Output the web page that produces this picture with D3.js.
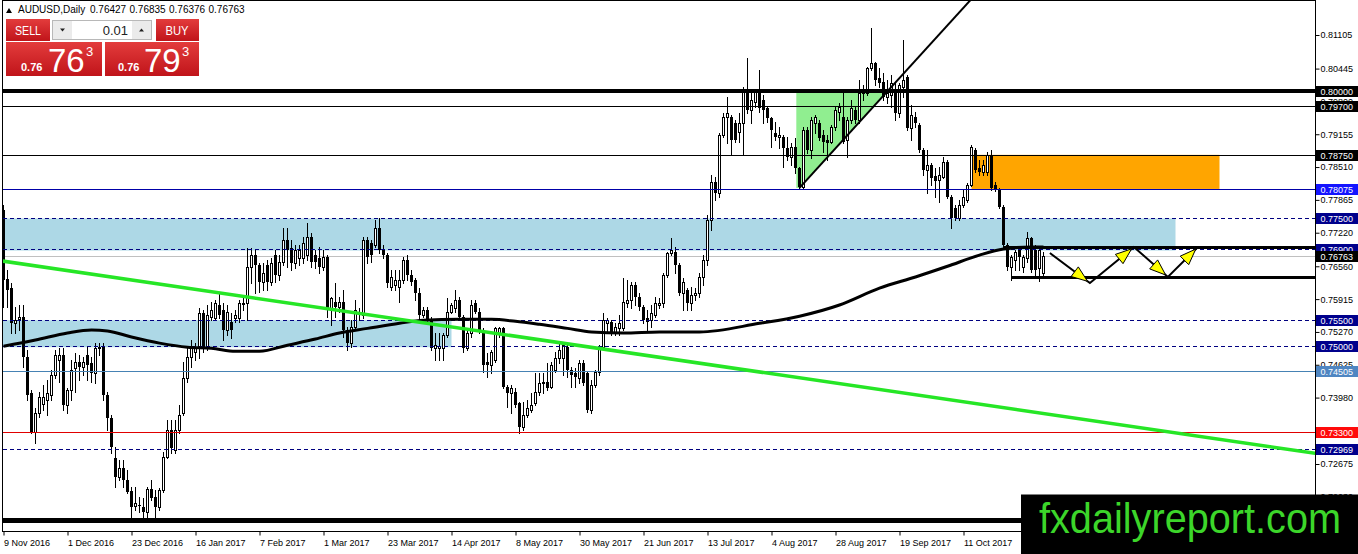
<!DOCTYPE html>
<html><head><meta charset="utf-8">
<script src="https://cdn.jsdelivr.net/npm/d3@7/dist/d3.min.js"></script>
<style>html,body{margin:0;padding:0;background:#fff;overflow:hidden}svg{display:block}</style>
</head><body>
<svg id="chart" width="1358" height="554"></svg>
<script>
// ---------------- DATA ----------------
const symbolTitle = "AUDUSD,Daily";
const headerValues = ["0.76427", "0.76835", "0.76376", "0.76763"];
const lotSize = "0.01";
const sellQuote = ["0.76", "76", "3"];
const buyQuote = ["0.76", "79", "3"];
const watermark = "fxdailyreport.com";

const opens = [
0.7766,0.7631,0.7613,0.7544,0.7552,0.7556,0.7477,0.7407,0.7330,0.7367,
0.7385,0.7393,0.7403,0.7442,0.7472,0.7481,0.7383,0.7413,0.7456,0.7468,
0.7458,0.7481,0.7466,0.7446,0.7495,0.7497,0.7403,0.7358,0.7279,0.7242,
0.7259,0.7236,0.7214,0.7185,0.7187,0.7183,0.7173,0.7218,0.7202,0.7183,
0.7216,0.7281,0.7334,0.7295,0.7334,0.7367,0.7436,0.7477,0.7487,0.7497,
0.7564,0.7497,0.7556,0.7554,0.7580,0.7570,0.7531,0.7546,0.7554,0.7554,
0.7584,0.7584,0.7654,0.7678,0.7658,0.7625,0.7658,0.7625,0.7678,0.7639,
0.7664,0.7707,0.7692,0.7662,0.7672,0.7672,0.7678,0.7713,0.7678,0.7672,
0.7654,0.7674,0.7570,0.7586,0.7576,0.7586,0.7531,0.7505,0.7536,0.7564,
0.7560,0.7707,0.7702,0.7698,0.7731,0.7688,0.7678,0.7615,0.7619,0.7615,
0.7629,0.7668,0.7639,0.7629,0.7603,0.7560,0.7570,0.7550,0.7495,0.7495,
0.7495,0.7521,0.7566,0.7574,0.7590,0.7556,0.7495,0.7525,0.7584,0.7566,
0.7527,0.7468,0.7462,0.7472,0.7525,0.7534,0.7419,0.7407,0.7409,0.7387,
0.7340,0.7364,0.7373,0.7387,0.7409,0.7426,0.7428,0.7419,0.7452,0.7476,
0.7476,0.7497,0.7452,0.7446,0.7436,0.7466,0.7446,0.7373,0.7422,0.7448,
0.7497,0.7544,0.7546,0.7527,0.7534,0.7534,0.7584,0.7590,0.7619,0.7595,
0.7576,0.7554,0.7550,0.7560,0.7580,0.7584,0.7639,0.7682,0.7684,0.7658,
0.7603,0.7609,0.7584,0.7599,0.7603,0.7635,0.7668,0.7747,0.7821,0.7800,
0.7914,0.7949,0.7949,0.7937,0.7920,0.7937,0.7998,0.7963,0.7979,0.7998,
0.7983,0.7967,0.7947,0.7918,0.7910,0.7910,0.7888,0.7870,0.7890,0.7849,
0.7812,0.7924,0.7884,0.7937,0.7937,0.7914,0.7904,0.7900,0.7929,0.7959,
0.7949,0.7904,0.7943,0.7963,0.7943,0.7996,0.7996,0.8045,0.8055,0.8026,
0.8018,0.7988,0.7992,0.8002,0.7957,0.8008,0.8028,0.7927,0.7949,0.7933,
0.7884,0.7845,0.7855,0.7833,0.7825,0.7831,0.7861,0.7792,0.7770,0.7751,
0.7776,0.7786,0.7815,0.7884,0.7849,0.7841,0.7841,0.7874,0.7815,0.7806,
0.7772,0.7698,0.7654,0.7668,0.7688,0.7654,0.7672,0.7711,0.7688,0.7652,
0.76427];
const highs = [
0.7776,0.7648,0.7623,0.7576,0.7580,0.7580,0.7491,0.7413,0.7377,0.7409,
0.7422,0.7432,0.7452,0.7491,0.7495,0.7495,0.7417,0.7472,0.7485,0.7481,
0.7477,0.7497,0.7477,0.7505,0.7505,0.7505,0.7409,0.7364,0.7301,0.7275,
0.7275,0.7255,0.7222,0.7222,0.7202,0.7200,0.7222,0.7236,0.7216,0.7220,
0.7291,0.7354,0.7354,0.7354,0.7383,0.7468,0.7497,0.7511,0.7505,0.7574,
0.7570,0.7580,0.7586,0.7590,0.7605,0.7584,0.7580,0.7564,0.7570,0.7590,
0.7599,0.7692,0.7692,0.7688,0.7662,0.7662,0.7668,0.7672,0.7688,0.7678,
0.7731,0.7731,0.7707,0.7698,0.7698,0.7713,0.7741,0.7721,0.7688,0.7694,
0.7688,0.7678,0.7595,0.7623,0.7595,0.7609,0.7536,0.7550,0.7590,0.7574,
0.7713,0.7713,0.7707,0.7747,0.7751,0.7698,0.7682,0.7648,0.7648,0.7648,
0.7674,0.7678,0.7648,0.7633,0.7613,0.7576,0.7576,0.7556,0.7525,0.7525,
0.7525,0.7593,0.7584,0.7609,0.7595,0.7560,0.7531,0.7590,0.7590,0.7574,
0.7534,0.7485,0.7491,0.7536,0.7536,0.7536,0.7422,0.7422,0.7417,0.7389,
0.7389,0.7393,0.7407,0.7446,0.7446,0.7446,0.7466,0.7468,0.7487,0.7505,
0.7507,0.7505,0.7458,0.7456,0.7472,0.7472,0.7448,0.7432,0.7452,0.7501,
0.7564,0.7554,0.7550,0.7544,0.7560,0.7633,0.7629,0.7625,0.7625,0.7603,
0.7580,0.7570,0.7580,0.7595,0.7593,0.7643,0.7684,0.7711,0.7694,0.7662,
0.7633,0.7613,0.7615,0.7613,0.7643,0.7678,0.7757,0.7835,0.7831,0.7918,
0.7957,0.7988,0.7953,0.7943,0.7957,0.8008,0.8065,0.8002,0.8002,0.8041,
0.7992,0.7969,0.7949,0.7939,0.7929,0.7914,0.7910,0.7898,0.7908,0.7851,
0.7929,0.7929,0.7949,0.7953,0.7943,0.7924,0.7914,0.7933,0.7969,0.7977,
0.7996,0.7949,0.7983,0.7969,0.8022,0.8012,0.8047,0.8124,0.8057,0.8045,
0.8036,0.8022,0.8032,0.8016,0.8016,0.8100,0.8032,0.7973,0.7959,0.7937,
0.7888,0.7884,0.7859,0.7849,0.7851,0.7870,0.7865,0.7796,0.7776,0.7786,
0.7806,0.7819,0.7894,0.7888,0.7865,0.7865,0.7880,0.7884,0.7821,0.7810,
0.7776,0.7702,0.7678,0.7688,0.7692,0.7678,0.7723,0.7713,0.7698,0.7694,
0.76835];
const lows = [
0.7576,0.7576,0.7525,0.7525,0.7531,0.7458,0.7393,0.7328,0.7309,0.7360,
0.7373,0.7364,0.7393,0.7436,0.7428,0.7373,0.7367,0.7393,0.7409,0.7432,
0.7442,0.7432,0.7428,0.7426,0.7481,0.7393,0.7334,0.7289,0.7222,0.7236,
0.7222,0.7210,0.7163,0.7177,0.7173,0.7163,0.7163,0.7197,0.7163,0.7177,
0.7212,0.7279,0.7289,0.7289,0.7328,0.7364,0.7428,0.7458,0.7472,0.7476,
0.7487,0.7491,0.7550,0.7550,0.7554,0.7511,0.7521,0.7515,0.7546,0.7546,
0.7570,0.7550,0.7623,0.7603,0.7605,0.7609,0.7609,0.7619,0.7625,0.7629,
0.7658,0.7654,0.7648,0.7652,0.7658,0.7662,0.7668,0.7654,0.7652,0.7643,
0.7648,0.7556,0.7540,0.7556,0.7566,0.7517,0.7491,0.7497,0.7531,0.7550,
0.7554,0.7662,0.7664,0.7694,0.7682,0.7672,0.7615,0.7609,0.7609,0.7586,
0.7623,0.7629,0.7619,0.7590,0.7550,0.7556,0.7546,0.7491,0.7472,0.7472,
0.7472,0.7517,0.7564,0.7566,0.7550,0.7487,0.7491,0.7517,0.7564,0.7525,
0.7448,0.7438,0.7446,0.7468,0.7517,0.7417,0.7379,0.7367,0.7379,0.7328,
0.7334,0.7360,0.7369,0.7383,0.7403,0.7407,0.7413,0.7417,0.7448,0.7466,
0.7442,0.7438,0.7419,0.7419,0.7426,0.7422,0.7369,0.7367,0.7419,0.7442,
0.7495,0.7525,0.7521,0.7521,0.7521,0.7531,0.7576,0.7574,0.7580,0.7570,
0.7544,0.7531,0.7536,0.7556,0.7574,0.7576,0.7635,0.7678,0.7643,0.7599,
0.7570,0.7570,0.7570,0.7590,0.7595,0.7619,0.7658,0.7727,0.7786,0.7792,
0.7910,0.7898,0.7874,0.7900,0.7900,0.7874,0.7957,0.7937,0.7969,0.7959,
0.7937,0.7939,0.7890,0.7904,0.7888,0.7851,0.7865,0.7855,0.7839,0.7810,
0.7808,0.7878,0.7869,0.7918,0.7904,0.7880,0.7865,0.7898,0.7923,0.7943,
0.7898,0.7870,0.7937,0.7937,0.7937,0.7983,0.7992,0.8041,0.8012,0.8008,
0.7983,0.7977,0.7969,0.7943,0.7949,0.7988,0.7924,0.7904,0.7929,0.7880,
0.7835,0.7800,0.7815,0.7792,0.7782,0.7829,0.7790,0.7731,0.7747,0.7747,
0.7772,0.7782,0.7814,0.7841,0.7835,0.7835,0.7835,0.7806,0.7804,0.7770,
0.7694,0.7648,0.7629,0.7648,0.7648,0.7645,0.7664,0.7645,0.7639,0.7627,
0.76376];
const closes = [
0.7629,0.7609,0.7544,0.7550,0.7556,0.7477,0.7403,0.7330,0.7367,0.7399,
0.7399,0.7407,0.7442,0.7481,0.7481,0.7383,0.7413,0.7452,0.7468,0.7458,
0.7468,0.7462,0.7446,0.7495,0.7497,0.7403,0.7358,0.7301,0.7242,0.7259,
0.7236,0.7212,0.7183,0.7191,0.7185,0.7173,0.7218,0.7200,0.7183,0.7216,
0.7281,0.7334,0.7299,0.7334,0.7364,0.7436,0.7477,0.7495,0.7497,0.7564,
0.7497,0.7560,0.7570,0.7584,0.7560,0.7531,0.7566,0.7531,0.7560,0.7584,
0.7580,0.7654,0.7678,0.7658,0.7625,0.7643,0.7625,0.7662,0.7639,0.7664,
0.7707,0.7688,0.7662,0.7688,0.7688,0.7702,0.7713,0.7664,0.7664,0.7654,
0.7674,0.7570,0.7593,0.7576,0.7586,0.7531,0.7505,0.7536,0.7570,0.7566,
0.7707,0.7674,0.7678,0.7731,0.7688,0.7678,0.7623,0.7635,0.7629,0.7629,
0.7668,0.7639,0.7625,0.7603,0.7560,0.7570,0.7550,0.7495,0.7501,0.7499,
0.7521,0.7566,0.7580,0.7590,0.7556,0.7495,0.7525,0.7580,0.7566,0.7527,
0.7462,0.7462,0.7487,0.7534,0.7534,0.7419,0.7407,0.7417,0.7383,0.7340,
0.7364,0.7377,0.7383,0.7409,0.7426,0.7428,0.7417,0.7462,0.7476,0.7491,
0.7501,0.7452,0.7442,0.7438,0.7466,0.7426,0.7373,0.7422,0.7448,0.7497,
0.7550,0.7550,0.7525,0.7536,0.7544,0.7586,0.7590,0.7619,0.7595,0.7576,
0.7550,0.7546,0.7564,0.7584,0.7584,0.7639,0.7682,0.7688,0.7658,0.7603,
0.7625,0.7584,0.7599,0.7603,0.7635,0.7668,0.7747,0.7821,0.7800,0.7914,
0.7949,0.7957,0.7904,0.7904,0.7937,0.8002,0.7963,0.7983,0.7998,0.7967,
0.7963,0.7947,0.7924,0.7910,0.7914,0.7888,0.7870,0.7890,0.7849,0.7812,
0.7924,0.7884,0.7943,0.7949,0.7908,0.7900,0.7898,0.7929,0.7963,0.7969,
0.7900,0.7943,0.7967,0.7943,0.7996,0.7998,0.8045,0.8055,0.8022,0.8016,
0.7988,0.7996,0.8016,0.7957,0.8012,0.8022,0.7927,0.7953,0.7937,0.7884,
0.7845,0.7855,0.7829,0.7823,0.7835,0.7861,0.7792,0.7751,0.7751,0.7776,
0.7792,0.7815,0.7890,0.7845,0.7841,0.7855,0.7874,0.7810,0.7806,0.7772,
0.7698,0.7654,0.7674,0.7684,0.7674,0.7674,0.7711,0.7648,0.7648,0.7688,
0.76763];

// x-axis labels (every 16 bars)
const tickBars = [0,16,32,48,64,80,96,112,128,144,160,176,192,208,224,240];
const tickLabels = ["9 Nov 2016","1 Dec 2016","23 Dec 2016","16 Jan 2017","7 Feb 2017","1 Mar 2017",
  "23 Mar 2017","14 Apr 2017","8 May 2017","30 May 2017","21 Jun 2017","13 Jul 2017",
  "4 Aug 2017","28 Aug 2017","19 Sep 2017","11 Oct 2017"];
// right price scale labels
const priceTicks = [0.81105,0.80445,0.79800,0.79155,0.78510,0.77865,0.77220,0.76560,
  0.75915,0.75270,0.74625,0.73980,0.73335,0.72675,0.72030];

// 200-day moving average (read at sample bars)
const maBars = [0,8,16,22,26,32,39,46,52,58,64,71,78,84,91,99,105,114,122,128,134,141,147,155,164,174,189,199,209,219,228,236,244,250,257,260];
const maValues = [0.7499,0.7511,0.7525,0.7531,0.7529,0.7517,0.7505,0.7497,0.7495,0.7489,0.7489,0.7501,0.7513,0.7525,0.7534,0.7544,0.7550,0.7552,0.7552,0.7548,0.7542,0.7534,0.7527,0.7525,0.7527,0.7527,0.7544,0.7558,0.7580,0.7613,0.7635,0.7656,0.7678,0.7690,0.7694,0.7694];

// horizontal levels
const levelPrices = [0.80000,0.79700,0.78750,0.78075,0.77500,0.76900,0.75500,0.75000,0.74505,0.73300,0.72969,0.71570];
const levelLabels = ["0.80000","0.79700","0.78750","0.78075","0.77500","0.76900","0.75500","0.75000","0.74505","0.73300","0.72969",""];
const currentPrice = 0.76763;

// zones
const blueBoxStart = [-1, -1];
const blueBoxEnd = [293, 112];
const blueBoxTop = [0.7750, 0.7550];
const blueBoxBottom = [0.7687, 0.7497];
const orangeBoxBars = [242, 304];
const orangeBoxPrices = [0.7875, 0.7808];
const greenZoneBars = [198.2, 221, 199, 198.2];
const greenZonePrices = [0.8000, 0.8000, 0.7810, 0.7810];

// trend lines
const greenTrendBars = [0, 330];
const greenTrendPrices = [0.7666, 0.7286];
const blackTrendBars = [199, 221];
const blackTrendPrices = [0.7810, 0.8000];

// range lines & projected zigzag
const rangeStartBars = [250, 252];
const rangePrices = [0.7694, 0.7634];
const zigzagBars = [261.6, 271.6, 282.6, 291.1, 298.6];
const zigzagPrices = [0.7682, 0.7623, 0.7694, 0.7635, 0.7694];

// ---------------- DRAW ----------------
const F = "'Liberation Sans', Arial, Helvetica, sans-serif";
const svg = d3.select('#chart');
const L = 3, R = 1315, T = 1, B = 531;
const x = d3.scaleLinear().domain([0, 260]).range([3.5, 1043.5]);
const y = d3.scaleLinear().domain([0.72675, 0.81105]).range([464, 35]);
const snap = (v, w) => (w % 2 === 1) ? Math.round(v) + 0.5 : Math.round(v);

const defs = svg.append('defs');
defs.append('clipPath').attr('id', 'plotclip').append('rect')
  .attr('x', L).attr('y', T).attr('width', R - L).attr('height', B - T);
const rg = defs.append('linearGradient').attr('id', 'redGrad').attr('x1', 0).attr('y1', 0).attr('x2', 0).attr('y2', 1);
rg.append('stop').attr('offset', 0).attr('stop-color', '#e33c3c');
rg.append('stop').attr('offset', 1).attr('stop-color', '#c0141a');

svg.append('rect').attr('width', 1358).attr('height', 554).attr('fill', '#fff');
const plot = svg.append('g').attr('clip-path', 'url(#plotclip)');

// zones
plot.append('g').selectAll('rect').data(d3.range(blueBoxStart.length)).join('rect')
  .attr('x', i => x(blueBoxStart[i])).attr('width', i => x(blueBoxEnd[i]) - x(blueBoxStart[i]))
  .attr('y', i => y(blueBoxTop[i])).attr('height', i => y(blueBoxBottom[i]) - y(blueBoxTop[i]))
  .attr('fill', '#add8e6');
plot.append('rect')
  .attr('x', x(orangeBoxBars[0])).attr('width', x(orangeBoxBars[1]) - x(orangeBoxBars[0]))
  .attr('y', y(orangeBoxPrices[0])).attr('height', y(orangeBoxPrices[1]) - y(orangeBoxPrices[0]))
  .attr('fill', '#ffa500');
plot.append('polygon')
  .attr('points', greenZoneBars.map((b, i) => [x(b), y(greenZonePrices[i])].join(',')).join(' '))
  .attr('fill', '#90ee90');

// current price line
plot.append('line').attr('x1', L).attr('x2', R)
  .attr('y1', snap(y(currentPrice), 1)).attr('y2', snap(y(currentPrice), 1))
  .attr('stroke', '#c0c0c0').attr('stroke-width', 1);

// candles
const idx = d3.range(closes.length);
const cg = plot.append('g').selectAll('g').data(idx).join('g');
cg.append('line')
  .attr('x1', i => x(i)).attr('x2', i => x(i))
  .attr('y1', i => Math.round(y(highs[i]))).attr('y2', i => Math.round(y(lows[i])) + 1)
  .attr('stroke', '#000').attr('stroke-width', 1);
cg.each(function (i) {
  const g = d3.select(this);
  const o = opens[i], c = closes[i];
  const yt = Math.round(y(Math.max(o, c))), yb = Math.round(y(Math.min(o, c)));
  if (c >= o) {
    g.append('rect').attr('x', x(i) - 1).attr('y', yt + 0.5)
      .attr('width', 2).attr('height', Math.max(yb - yt, 1))
      .attr('fill', '#fff').attr('stroke', '#000').attr('stroke-width', 1);
  } else {
    g.append('rect').attr('x', x(i) - 1.5).attr('y', yt)
      .attr('width', 3).attr('height', Math.max(yb - yt, 1)).attr('fill', '#000');
  }
});

// level lines
const navy = '#000080';
const levelStyle = [
  { w: 4, c: '#000', bg: '#000' },
  { w: 1, c: '#000', bg: '#000' },
  { w: 1, c: '#000', bg: '#000' },
  { w: 1, c: '#0000a8', bg: '#1414ff' },
  { w: 1, c: navy, d: '4,3', bg: '#00008c' },
  { w: 1, c: navy, d: '4,3', bg: '#00008c' },
  { w: 1, c: navy, d: '4,3', bg: '#00008c' },
  { w: 1, c: navy, d: '4,3', bg: '#00008c' },
  { w: 1, c: '#4682b4', bg: '#4f86c2' },
  { w: 1, c: '#e00000', bg: '#ff0a0a' },
  { w: 1, c: navy, d: '4,3', bg: '#00008c' },
  { w: 5, c: '#000', bg: null }
];
plot.append('g').selectAll('line').data(d3.range(levelPrices.length)).join('line')
  .attr('x1', L).attr('x2', R)
  .attr('y1', i => snap(y(levelPrices[i]), levelStyle[i].w))
  .attr('y2', i => snap(y(levelPrices[i]), levelStyle[i].w))
  .attr('stroke', i => levelStyle[i].c).attr('stroke-width', i => levelStyle[i].w)
  .attr('stroke-dasharray', i => levelStyle[i].d || null);

// moving average
plot.append('path')
  .attr('d', d3.line().x((b) => x(b)).y((b, i) => y(maValues[i])).curve(d3.curveMonotoneX)(maBars))
  .attr('fill', 'none').attr('stroke', '#000').attr('stroke-width', 3);

// green trendline
const extend = (bars, prices, b) => prices[0] + (prices[1] - prices[0]) * (b - bars[0]) / (bars[1] - bars[0]);
plot.append('line')
  .attr('x1', x(greenTrendBars[0]) - 2).attr('y1', y(extend(greenTrendBars, greenTrendPrices, greenTrendBars[0] - 0.5)))
  .attr('x2', x(greenTrendBars[1])).attr('y2', y(greenTrendPrices[1]))
  .attr('stroke', '#26e626').attr('stroke-width', 3.5);

// black trendline (ray to top)
const bEnd = 250;
plot.append('line')
  .attr('x1', x(blackTrendBars[0])).attr('y1', y(blackTrendPrices[0]))
  .attr('x2', x(bEnd)).attr('y2', y(extend(blackTrendBars, blackTrendPrices, bEnd)))
  .attr('stroke', '#000').attr('stroke-width', 2);

// range lines
plot.append('g').selectAll('line').data([0, 1]).join('line')
  .attr('x1', i => x(rangeStartBars[i])).attr('x2', R)
  .attr('y1', i => snap(y(rangePrices[i]), 3)).attr('y2', i => snap(y(rangePrices[i]), 3))
  .attr('stroke', '#000').attr('stroke-width', 3);

// zigzag projection with yellow arrowheads
const zz = zigzagBars.map((b, i) => [x(b), y(zigzagPrices[i])]);
plot.append('path').attr('d', d3.line()(zz)).attr('fill', 'none')
  .attr('stroke', '#000').attr('stroke-width', 2).attr('stroke-linejoin', 'miter');
for (let k = 1; k < zz.length; k++) {
  const [x0, y0] = zz[k - 1], [x1, y1] = zz[k];
  const len = Math.hypot(x1 - x0, y1 - y0), ux = (x1 - x0) / len, uy = (y1 - y0) / len;
  const nx = -uy, ny = ux;
  const tx = x1 - ux * 3, ty = y1 - uy * 3;
  const bx = tx - ux * 16, by = ty - uy * 16;
  plot.append('polygon')
    .attr('points', [[tx, ty], [bx + nx * 6, by + ny * 6], [bx - nx * 6, by - ny * 6]].map(p => p.join(',')).join(' '))
    .attr('fill', '#ffff00').attr('stroke', '#000').attr('stroke-width', 1);
}

// frame
svg.append('rect').attr('x', 2.5).attr('y', 0.5).attr('width', R + 0.5 - 2.5).attr('height', B + 0.5 - 0.5)
  .attr('fill', 'none').attr('stroke', '#000').attr('stroke-width', 1);

// x axis
const gx = svg.append('g').attr('transform', `translate(0,${B + 0.5})`)
  .call(d3.axisBottom(x).tickValues(tickBars).tickFormat((d, i) => tickLabels[i]).tickSize(4).tickSizeOuter(0).tickPadding(4));
gx.select('.domain').remove();
gx.attr('font-family', F).attr('font-size', 9);
gx.selectAll('text').attr('text-anchor', 'start').attr('fill', '#000');

// y axis (right)
const gy = svg.append('g').attr('transform', `translate(${R + 0.5},0)`)
  .call(d3.axisRight(y).tickValues(priceTicks).tickFormat(d3.format('.5f')).tickSize(4).tickSizeOuter(0).tickPadding(1));
gy.select('.domain').remove();
gy.attr('font-family', F).attr('font-size', 9);
gy.selectAll('text').attr('fill', '#000');

// level labels
const lab = svg.append('g').attr('font-family', F).attr('font-size', 9);
d3.range(levelPrices.length).forEach(i => {
  if (!levelLabels[i]) return;
  const yy = Math.round(y(levelPrices[i]));
  lab.append('rect').attr('x', R + 1).attr('y', yy - 5).attr('width', 1358 - R - 1).attr('height', 11).attr('fill', levelStyle[i].bg);
  lab.append('text').attr('x', R + 5.5).attr('y', yy + 3.5).attr('fill', '#fff').text(levelLabels[i]);
});
{
  const yy = Math.round(y(currentPrice));
  lab.append('rect').attr('x', R + 1).attr('y', yy - 5).attr('width', 1358 - R - 1).attr('height', 11).attr('fill', '#000');
  lab.append('text').attr('x', R + 5.5).attr('y', yy + 3.5).attr('fill', '#fff').text(d3.format('.5f')(currentPrice));
}

// header
const hd = svg.append('g').attr('font-family', F).attr('font-size', 10).attr('fill', '#000');
hd.append('polygon').attr('points', '6,13 12,13 9,8').attr('fill', '#000');
hd.append('text').attr('x', 18).attr('y', 13).text(symbolTitle);
const hx = [90, 129.5, 169, 208.5];
headerValues.forEach((v, i) => hd.append('text').attr('x', hx[i]).attr('y', 13).text(v));

// one-click trading panel
const pg = svg.append('g').attr('font-family', F);
pg.append('rect').attr('x', 6).attr('y', 19).attr('width', 44).attr('height', 22).attr('fill', 'url(#redGrad)');
pg.append('text').attr('x', 28).attr('y', 35).attr('text-anchor', 'middle').attr('fill', '#fff')
  .attr('font-size', 12).attr('textLength', 26).attr('lengthAdjust', 'spacingAndGlyphs').text('SELL');
pg.append('rect').attr('x', 156).attr('y', 19).attr('width', 43).attr('height', 22).attr('fill', 'url(#redGrad)');
pg.append('text').attr('x', 177).attr('y', 35).attr('text-anchor', 'middle').attr('fill', '#fff')
  .attr('font-size', 12).attr('textLength', 23).attr('lengthAdjust', 'spacingAndGlyphs').text('BUY');
pg.append('rect').attr('x', 52.5).attr('y', 20.5).attr('width', 99).attr('height', 19).attr('fill', '#fff').attr('stroke', '#b8b8b8');
pg.append('rect').attr('x', 53).attr('y', 21).attr('width', 19).attr('height', 18).attr('fill', '#ebebeb');
pg.append('rect').attr('x', 132).attr('y', 21).attr('width', 19).attr('height', 18).attr('fill', '#ebebeb');
pg.append('polygon').attr('points', '60,28.5 65,28.5 62.5,31.5').attr('fill', '#222');
pg.append('polygon').attr('points', '139,31.5 144,31.5 141.5,28.5').attr('fill', '#222');
pg.append('text').attr('x', 128).attr('y', 35).attr('text-anchor', 'end').attr('font-size', 13).attr('fill', '#222').text(lotSize);
const quoteBoxes = [[6, 96, sellQuote, 21, 48, 86], [105, 94, buyQuote, 118, 144, 182]];
quoteBoxes.forEach(([bx, bw, q, sx, bigx, pipx]) => {
  pg.append('rect').attr('x', bx).attr('y', 42).attr('width', bw).attr('height', 34).attr('fill', 'url(#redGrad)');
  pg.append('text').attr('x', sx).attr('y', 71).attr('fill', '#fff').attr('font-size', 11).attr('font-weight', 'bold').text(q[0]);
  pg.append('text').attr('x', bigx).attr('y', 72).attr('fill', '#fff').attr('font-size', 33).text(q[1]);
  pg.append('text').attr('x', pipx).attr('y', 56).attr('fill', '#fff').attr('font-size', 13).text(q[2]);
});

// watermark
svg.append('rect').attr('x', 1021).attr('y', 494.5).attr('width', 337).attr('height', 60).attr('fill', '#000');
svg.append('text').attr('x', 1039).attr('y', 533).attr('font-family', F).attr('font-size', 42)
  .attr('fill', '#3cd62a').attr('textLength', 302).attr('lengthAdjust', 'spacingAndGlyphs').text(watermark);
</script>
</body></html>
